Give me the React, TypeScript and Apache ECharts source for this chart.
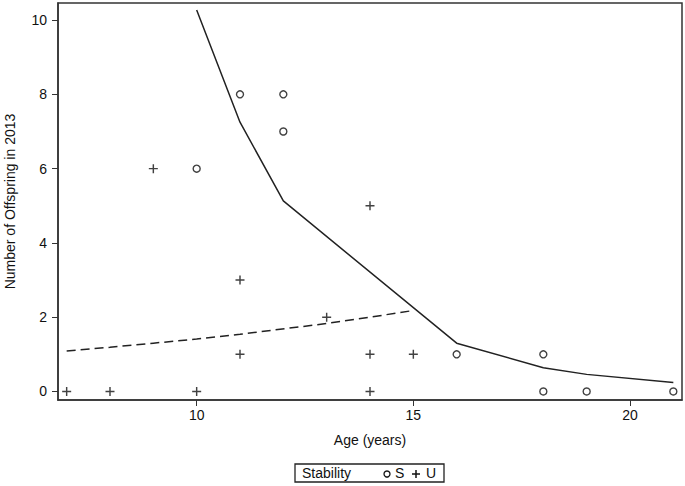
import React, { useEffect, useRef } from "react";
import * as echarts from "echarts";

const stableAges = [10, 11, 12, 12, 16, 18, 18, 19, 21];
const stableOffspring = [6, 8, 8, 7, 1, 1, 0, 0, 0];
const unstableAges = [7, 8, 10, 9, 11, 11, 13, 14, 14, 14, 15];
const unstableOffspring = [0, 0, 0, 6, 3, 1, 2, 5, 1, 0, 1];
const stableFitAges = [10, 11, 12, 16, 18, 19, 21];
const stableFitValues = [10.27, 7.25, 5.13, 1.3, 0.64, 0.46, 0.24];
const unstableFitAges = [7, 8, 9, 10, 11, 13, 14, 15];
const unstableFitValues = [1.09, 1.19, 1.3, 1.41, 1.54, 1.83, 2.0, 2.18];
const xTicks = [10, 15, 20];
const yTicks = [0, 2, 4, 6, 8, 10];

const FONT = "Liberation Sans, Arial, sans-serif";
const PLUS = "path://M4.2,0 H5.8 V4.2 H10 V5.8 H5.8 V10 H4.2 V5.8 H0 V4.2 H4.2 Z";

export default function App() {
  const ref = useRef<HTMLDivElement>(null);
  useEffect(() => {
    if (!ref.current) return;
    const chart = echarts.init(ref.current, null, { renderer: "svg" });
    const zip = (a: number[], b: number[]) => a.map((v, i) => [v, b[i]]);
    chart.setOption({
      animation: false,
      backgroundColor: "#fff",
      textStyle: { fontFamily: FONT },
      grid: {
        left: 58,
        right: 3,
        top: 3,
        bottom: 86,
        show: true,
        borderColor: "#333",
        borderWidth: 1.5,
        containLabel: false,
        outerBoundsMode: "none",
      },
      xAxis: {
        type: "value",
        min: 6.8,
        max: 21.2,
        name: "Age (years)",
        nameLocation: "middle",
        nameGap: 33,
        nameTextStyle: { fontSize: 14, color: "#111", fontFamily: FONT },
        axisLine: { show: true, onZero: false, lineStyle: { color: "#333", width: 1.5 } },
        axisTick: { show: true, customValues: xTicks, length: 6, lineStyle: { color: "#333" } },
        axisLabel: { customValues: xTicks, fontSize: 14, color: "#111", margin: 8, fontFamily: FONT },
        splitLine: { show: false },
      },
      yAxis: {
        type: "value",
        min: -0.23,
        max: 10.46,
        name: "Number of Offspring in 2013",
        nameLocation: "middle",
        nameGap: 41,
        nameTextStyle: { fontSize: 14, color: "#111", fontFamily: FONT },
        axisLine: { show: true, onZero: false, lineStyle: { color: "#333", width: 1.5 } },
        axisTick: { show: true, customValues: yTicks, length: 6, lineStyle: { color: "#333" } },
        axisLabel: { customValues: yTicks, fontSize: 14, color: "#111", margin: 11, fontFamily: FONT },
        splitLine: { show: false },
      },
      series: [
        {
          type: "line",
          data: zip(stableFitAges, stableFitValues),
          symbol: "none",
          lineStyle: { color: "#222", width: 1.5 },
          silent: true,
        },
        {
          type: "line",
          data: zip(unstableFitAges, unstableFitValues),
          symbol: "none",
          lineStyle: { color: "#222", width: 1.5, type: [9, 5] },
          silent: true,
        },
        {
          type: "scatter",
          data: zip(stableAges, stableOffspring),
          symbol: "circle",
          symbolSize: 7,
          itemStyle: { color: "#fff", borderColor: "#111", borderWidth: 1.4 },
        },
        {
          type: "scatter",
          data: zip(unstableAges, unstableOffspring),
          symbol: PLUS,
          symbolSize: 9,
          itemStyle: { color: "#111" },
        },
      ],
      graphic: [
        {
          type: "rect",
          shape: { x: 295, y: 464, width: 149, height: 18 },
          style: { fill: "#fff", stroke: "#222", lineWidth: 1.3 },
        },
        {
          type: "text",
          x: 302,
          y: 473,
          style: { text: "Stability", font: `14px ${FONT}`, fill: "#111", verticalAlign: "middle" },
        },
        {
          type: "circle",
          shape: { cx: 387, cy: 474, r: 3 },
          style: { fill: "#fff", stroke: "#111", lineWidth: 1.3 },
        },
        {
          type: "text",
          x: 395,
          y: 473,
          style: { text: "S", font: `14px ${FONT}`, fill: "#111", verticalAlign: "middle" },
        },
        {
          type: "line",
          shape: { x1: 412, y1: 474, x2: 420, y2: 474 },
          style: { stroke: "#111", lineWidth: 1.5 },
        },
        {
          type: "line",
          shape: { x1: 416, y1: 470, x2: 416, y2: 478 },
          style: { stroke: "#111", lineWidth: 1.5 },
        },
        {
          type: "text",
          x: 426,
          y: 473,
          style: { text: "U", font: `14px ${FONT}`, fill: "#111", verticalAlign: "middle" },
        },
      ],
    });
    return () => chart.dispose();
  }, []);
  return <div ref={ref} style={{ width: 685, height: 486, position: "absolute", left: 0, top: 0 }} />;
}
